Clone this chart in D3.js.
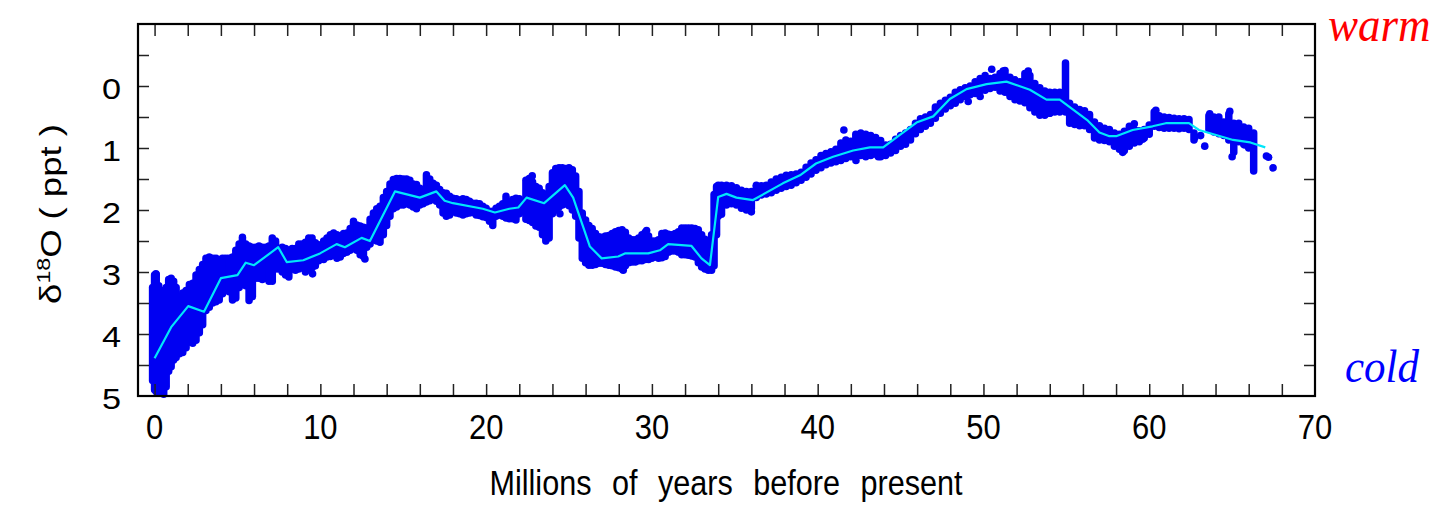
<!DOCTYPE html>
<html>
<head>
<meta charset="utf-8">
<script src="https://cdn.jsdelivr.net/npm/d3@7"></script>
<style>
  html, body { margin: 0; padding: 0; background: #fff; }
  svg { display: block; }
</style>
</head>
<body>
<svg id="chart" width="1439" height="509"></svg>
<script>
// Benthic foraminifera oxygen-isotope record, Cenozoic (age in Myr before present)

// Dense sample cloud: for each age, the lightest (top) and heaviest (bottom) values
const bandAge = [
  -0.12, 0.0, 0.1, 0.25, 0.4, 0.55, 0.7, 0.85, 1.0, 1.15, 1.3, 1.5, 1.7, 1.9, 2.1, 2.3, 2.5, 2.7, 2.9,
  3.1, 3.3, 3.5, 3.7, 3.9, 4.1, 4.3, 4.5, 4.7, 4.9, 5.1, 5.3, 5.5, 5.7, 5.9, 6.1, 6.3, 6.5, 6.7, 6.9,
  7.1, 7.3, 7.5, 7.7, 7.9, 8.1, 8.3, 8.5, 8.7, 8.9, 9.1, 9.3, 9.5, 9.7,
  9.9, 10.2, 10.4, 10.6, 10.8, 11.0, 11.2, 11.4, 11.6, 11.8, 12.0, 12.2, 12.4, 12.6, 12.8, 13.0,
  13.2, 13.4, 13.6, 13.8, 14.0, 14.2, 14.4, 14.6, 14.8, 15.0, 15.2, 15.4, 15.6, 15.8, 16.0, 16.2,
  16.4, 16.6, 16.8, 17.0, 17.2, 17.4, 17.6, 17.8, 18.0, 18.2, 18.4, 18.6, 18.8, 19.0, 19.2, 19.4,
  19.6, 19.8, 20.0, 20.2, 20.4, 20.6, 20.8, 21.0, 21.2,
  21.4, 21.6, 21.8, 22.0, 22.2, 22.4, 22.6, 22.8, 23.0, 23.2, 23.4, 23.6, 23.8, 24.0, 24.2, 24.4,
  24.6, 24.8, 25.0, 25.2, 25.4, 25.6, 25.8, 26.0, 26.2, 26.4, 26.6, 26.8, 27.0, 27.2, 27.4, 27.6,
  27.8, 28.0, 28.2, 28.4, 28.6, 28.8, 29.0, 29.2, 29.4, 29.6, 29.8, 30.0, 30.2, 30.4, 30.6, 30.8,
  31.0, 31.2, 31.4, 31.6, 31.8, 32.0, 32.2, 32.4, 32.6, 32.8, 33.0, 33.2, 33.4, 33.6, 33.75, 33.9, 34.0,
  34.2, 34.5, 34.8, 35.1, 35.4, 35.7, 36.0, 36.3, 36.6, 36.9, 37.2, 37.5, 37.8, 38.1, 38.4, 38.7,
  39.0, 39.3, 39.6, 39.9, 40.2, 40.5, 40.8, 41.1, 41.4, 41.7, 42.0, 42.3, 42.6, 42.9, 43.2, 43.5,
  43.8, 44.1, 44.4, 44.7, 45.0, 45.3, 45.6, 45.9, 46.2, 46.5, 46.8, 47.1, 47.4, 47.7, 48.0, 48.3,
  48.6, 48.9, 49.2, 49.5, 49.8, 50.1, 50.4, 50.7, 51.0, 51.3, 51.6, 51.9, 52.2, 52.5, 52.8, 53.1,
  53.4, 53.7, 54.0, 54.3, 54.6, 54.95, 55.2, 55.5, 55.8, 56.1, 56.4,
  56.7, 57.0, 57.3, 57.6, 57.9, 58.2, 58.5, 58.8, 59.1, 59.4, 59.7, 60.0, 60.3, 60.6, 60.9, 61.2,
  61.5, 61.8, 62.1, 62.4, 62.7, 63.6, 63.9, 64.2, 64.5, 64.8, 65.1, 65.4, 65.7, 66.0, 66.3
];
const bandTop = [
  3.25, 3.05, 3.04, 3.22, 3.30, 3.30, 3.25, 3.12, 3.10, 3.15, 3.25, 3.40, 3.34, 3.30, 3.20, 3.18, 3.05, 2.96, 2.88,
  2.78, 2.76, 2.78, 2.78, 2.80, 2.78, 2.78, 2.78, 2.76, 2.65, 2.55, 2.44, 2.55, 2.58, 2.60, 2.60, 2.58, 2.60, 2.60, 2.58,
  2.45, 2.50, 2.62, 2.60, 2.62, 2.65, 2.62, 2.62, 2.55, 2.55, 2.52, 2.45, 2.45, 2.53,
  2.56, 2.50, 2.45, 2.40, 2.37, 2.40, 2.42, 2.38, 2.37, 2.30, 2.18, 2.24, 2.26, 2.28, 2.29, 2.15,
  2.05, 1.98, 1.94, 1.80, 1.70, 1.58, 1.51, 1.49, 1.49, 1.50, 1.50, 1.52, 1.58, 1.59, 1.65, 1.67,
  1.43, 1.50, 1.57, 1.60, 1.67, 1.72, 1.73, 1.78, 1.81, 1.82, 1.84, 1.82, 1.83, 1.86, 1.89, 1.89,
  1.90, 1.94, 1.97, 2.02, 2.02, 1.97, 1.94, 1.90, 1.78,
  1.88, 1.83, 1.81, 1.82, 1.89, 1.52, 1.49, 1.55, 1.62, 1.65, 1.72, 1.75, 1.62, 1.40, 1.33, 1.32,
  1.32, 1.33, 1.32, 1.35, 1.45, 1.70, 2.05, 2.16, 2.25, 2.30, 2.38, 2.43, 2.44, 2.42, 2.41, 2.38,
  2.35, 2.33, 2.32, 2.36, 2.45, 2.48, 2.48, 2.45, 2.40, 2.36, 2.42, 2.50, 2.50, 2.48, 2.38, 2.37,
  2.39, 2.40, 2.38, 2.35, 2.29, 2.29, 2.29, 2.29, 2.30, 2.32, 2.40, 2.47, 2.50, 2.40, 1.75, 1.62, 1.60,
  1.60, 1.60, 1.61, 1.64, 1.68, 1.70, 1.70, 1.63, 1.61, 1.60, 1.55, 1.50, 1.47, 1.44, 1.43, 1.42,
  1.39, 1.31, 1.24, 1.19, 1.12, 1.09, 1.06, 1.02, 0.92, 0.87, 0.89, 0.78, 0.76, 0.78, 0.80, 0.83,
  0.88, 0.95, 0.94, 0.86, 0.80, 0.76, 0.70, 0.60, 0.53, 0.50, 0.46, 0.34, 0.28, 0.23, 0.18, 0.10,
  0.06, 0.03, 0.00, -0.07, -0.12, -0.17, -0.12, -0.14, -0.20, -0.20, -0.14, -0.10, -0.07, -0.20, -0.17, -0.04,
  0.03, 0.08, 0.10, 0.10, 0.10, -0.37, 0.28, 0.34, 0.38, 0.40, 0.46,
  0.58, 0.64, 0.68, 0.70, 0.76, 0.78, 0.73, 0.65, 0.70, 0.72, 0.70, 0.63, 0.42, 0.48, 0.50, 0.51,
  0.52, 0.53, 0.53, 0.54, 0.76, 0.48, 0.50, 0.50, 0.58, 0.45, 0.60, 0.60, 0.66, 0.68, 0.76
];
const bandBottom = [
  4.75, 4.90, 4.93, 4.93, 4.95, 4.97, 4.85, 4.60, 4.53, 4.42, 4.38, 4.32, 4.30, 4.22, 4.13, 4.15, 4.10, 3.98, 3.85,
  3.62, 3.57, 3.50, 3.48, 3.45, 3.35, 3.30, 3.32, 3.45, 3.42, 3.25, 3.20, 3.22, 3.46, 3.40, 3.10, 3.10, 3.12, 3.10, 3.15,
  3.15, 2.95, 2.95, 3.00, 3.05, 3.08, 2.95, 2.97, 2.95, 2.93, 3.00, 2.95, 2.93, 2.90,
  2.82, 2.80, 2.76, 2.75, 2.73, 2.78, 2.76, 2.70, 2.68, 2.65, 2.62, 2.65, 2.72, 2.75, 2.60, 2.55,
  2.48, 2.50, 2.52, 2.40, 2.25, 2.10, 1.98, 1.95, 1.92, 1.92, 1.90, 1.92, 1.95, 1.98, 1.92, 1.90,
  1.87, 1.85, 1.80, 1.86, 1.92, 2.05, 2.10, 2.08, 2.03, 2.05, 2.06, 2.08, 2.06, 2.05, 2.04, 2.08,
  2.09, 2.11, 2.12, 2.18, 2.25, 2.10, 2.08, 2.10, 2.13,
  2.14, 2.14, 2.16, 2.06, 2.02, 2.15, 2.17, 2.20, 2.26, 2.28, 2.40, 2.50, 2.45, 2.06, 2.00, 1.95,
  1.92, 1.90, 1.93, 2.00, 2.10, 2.45, 2.78, 2.85, 2.89, 2.89, 2.88, 2.86, 2.86, 2.88, 2.89, 2.90,
  2.92, 2.93, 2.95, 2.90, 2.85, 2.84, 2.84, 2.82, 2.82, 2.80, 2.80, 2.78, 2.76, 2.78, 2.77, 2.75,
  2.68, 2.66, 2.66, 2.68, 2.72, 2.72, 2.73, 2.74, 2.76, 2.85, 2.92, 2.95, 2.97, 2.97, 2.90, 2.40, 2.10,
  2.07, 1.92, 1.90, 1.92, 1.97, 2.00, 1.97, 1.80, 1.76, 1.74, 1.72, 1.68, 1.65, 1.62, 1.60, 1.56,
  1.52, 1.47, 1.42, 1.36, 1.32, 1.27, 1.24, 1.22, 1.20, 1.17, 1.14, 1.12, 1.12, 1.14, 1.12, 1.10,
  1.14, 1.12, 1.08, 1.04, 0.97, 0.94, 0.87, 0.77, 0.70, 0.65, 0.60, 0.52, 0.44, 0.37, 0.32, 0.28,
  0.22, 0.17, 0.14, 0.12, 0.08, 0.07, 0.04, 0.02, 0.08, 0.10, 0.17, 0.22, 0.24, 0.27, 0.35, 0.42,
  0.47, 0.47, 0.44, 0.42, 0.42, 0.42, 0.60, 0.62, 0.64, 0.64, 0.70,
  0.84, 0.87, 0.88, 0.90, 0.97, 1.02, 1.04, 0.97, 0.92, 0.90, 0.84, 0.78, 0.65, 0.67, 0.68, 0.68,
  0.68, 0.69, 0.68, 0.70, 0.87, 0.70, 0.74, 0.77, 0.80, 0.87, 1.07, 0.90, 0.94, 1.00, 1.37
];

// Isolated samples lying outside the dense cloud
const dotAge = [
  0.08, 9.53, 12.69, 22.78, 24.45, 28.27, 29.68, 35.2, 36.0, 36.3,
  41.58, 42.31, 43.66, 49.08, 49.8, 50.5, 51.19, 51.3, 51.59, 52.7, 52.9, 53.0, 54.0,
  55.4, 56.2, 57.0, 58.4, 59.1, 59.6, 60.4, 62.75, 63.1, 63.35, 63.65, 64.86, 65.0,
  65.76, 67.07, 67.2, 67.47
];
const dotValue = [
  3.03, 3.03, 2.79, 1.45, 2.06, 2.97, 2.33, 1.89, 2.03, 1.60,
  0.71, 1.20, 1.14, 0.25, 0.17, -0.27, -0.24, -0.25, 0.12, -0.24, 0.28, 0.28, 0.44,
  0.55, 0.63, 0.86, 1.07, 0.61, 0.86, 0.39, 0.83, 0.80, 0.97, 0.45, 0.41, 1.14,
  0.95, 1.13, 1.15, 1.32
];

// Smoothed trend
const trendAge = [
  0, 1.0, 2.03, 2.98, 4.0, 5.0, 5.5, 6.0, 7.46, 7.97, 8.97, 9.98, 10.98, 11.48, 12.49, 12.99,
  14.5, 16.0, 17.0, 17.5, 18.0, 19.8, 20.53, 21.4, 21.94, 22.44, 23.5, 24.75, 25.25, 26.26,
  26.97, 27.97, 28.37, 29.78, 30.48, 30.98, 32.39, 32.99, 33.5, 34.0, 34.5, 35.1, 36.1, 37.9,
  38.93, 39.9, 40.93, 42.14, 43.15, 43.95, 44.96, 45.96, 46.97, 47.97, 48.98, 50.19, 51.39,
  52.8, 53.8, 54.6, 56.3, 57.0, 57.6, 58.0, 59.0, 60.2, 61.0, 62.4, 63.0, 65.06, 66.1, 67.0
];
const trendValue = [
  4.39, 3.89, 3.55, 3.64, 3.10, 3.05, 2.85, 2.89, 2.60, 2.84, 2.81, 2.70, 2.55, 2.60, 2.45, 2.50,
  1.70, 1.80, 1.70, 1.85, 1.89, 1.98, 2.04, 1.98, 1.96, 1.80, 1.89, 1.60, 1.80, 2.59,
  2.78, 2.75, 2.70, 2.70, 2.65, 2.55, 2.58, 2.78, 2.89, 1.79, 1.74, 1.80, 1.84, 1.57,
  1.44, 1.25, 1.14, 1.04, 0.99, 0.99, 0.79, 0.59, 0.49, 0.21, 0.05, -0.03, -0.07,
  0.06, 0.22, 0.22, 0.56, 0.75, 0.81, 0.81, 0.71, 0.65, 0.60, 0.60, 0.71, 0.87, 0.91, 0.99
];

const xLabels = [0, 10, 20, 30, 40, 50, 60, 70];
const yLabels = [0, 1, 2, 3, 4, 5];
const xMinorTicks = d3.range(0, 70, 2);
const yMinorTicks = d3.range(-0.5, 5, 0.5);

const svg = d3.select("#chart");
const plot = { left: 138, right: 1315, top: 24, bottom: 396 };

const x = d3.scaleLinear().domain([-1, 70]).range([plot.left, plot.right]);
const y = d3.scaleLinear().domain([-1, 5]).range([plot.top, plot.bottom]);

const dotColor = "#0000f2";

// sample cloud
const band = svg.append("g");
band.selectAll("line")
  .data(bandAge.map((a, i) => ({ a, t: bandTop[i], b: bandBottom[i] })))
  .join("line")
  .attr("x1", d => x(d.a)).attr("x2", d => x(d.a))
  .attr("y1", d => y(d.t)).attr("y2", d => y(d.b))
  .attr("stroke", dotColor)
  .attr("stroke-width", 7.5)
  .attr("stroke-linecap", "round");

band.selectAll("circle")
  .data(dotAge.map((a, i) => ({ a, v: dotValue[i] })))
  .join("circle")
  .attr("cx", d => x(d.a)).attr("cy", d => y(d.v))
  .attr("r", 3.8)
  .attr("fill", dotColor);

// trend line
svg.append("path")
  .datum(trendAge.map((a, i) => [a, trendValue[i]]))
  .attr("fill", "none")
  .attr("stroke", "#00e6fa")
  .attr("stroke-width", 2.2)
  .attr("stroke-linejoin", "round")
  .attr("d", d3.line().x(d => x(d[0])).y(d => y(d[1])));

// inward ticks on all four sides
function tickStyle(g) {
  g.select(".domain").remove();
  g.selectAll(".tick line").attr("stroke", "#222").attr("stroke-width", 1.5);
}
svg.append("g").attr("transform", `translate(0,${plot.bottom})`)
  .call(d3.axisBottom(x).tickValues(xMinorTicks).tickSize(-12).tickFormat(""))
  .call(tickStyle);
svg.append("g").attr("transform", `translate(0,${plot.top})`)
  .call(d3.axisTop(x).tickValues(xMinorTicks).tickSize(-12).tickFormat(""))
  .call(tickStyle);
svg.append("g").attr("transform", `translate(${plot.left},0)`)
  .call(d3.axisLeft(y).tickValues(yMinorTicks).tickSize(-11).tickFormat(""))
  .call(tickStyle);
svg.append("g").attr("transform", `translate(${plot.right},0)`)
  .call(d3.axisRight(y).tickValues(yMinorTicks).tickSize(-11).tickFormat(""))
  .call(tickStyle);

// frame
svg.append("rect")
  .attr("x", plot.left).attr("y", plot.top)
  .attr("width", plot.right - plot.left).attr("height", plot.bottom - plot.top)
  .attr("fill", "none").attr("stroke", "#000").attr("stroke-width", 2.2);

const sans = "'Liberation Sans', Arial, Helvetica, sans-serif";
const serif = "'Liberation Serif', 'Times New Roman', serif";

// x tick labels
svg.append("g").selectAll("text")
  .data(xLabels)
  .join("text")
  .attr("transform", d => `translate(${x(d)},439) scale(1,1.15)`)
  .attr("text-anchor", "middle")
  .attr("font-family", sans).attr("font-size", 31)
  .attr("fill", "#000")
  .text(d => d);

// y tick labels
svg.append("g").selectAll("text")
  .data(yLabels)
  .join("text")
  .attr("transform", d => `translate(121,${y(d) + 13}) scale(1.18,1)`)
  .attr("text-anchor", "end")
  .attr("font-family", sans).attr("font-size", 29)
  .attr("fill", "#000")
  .text(d => d);

// x axis title
svg.append("text")
  .attr("transform", "translate(726,495) scale(1,1.14)")
  .attr("text-anchor", "middle")
  .attr("font-family", sans).attr("font-size", 30.6)
  .attr("word-spacing", "12px")
  .attr("fill", "#000")
  .text("Millions of years before present");

// y axis title
const yt = svg.append("text")
  .attr("transform", "translate(61,214) rotate(-90) scale(1.22,1)")
  .attr("text-anchor", "middle")
  .attr("font-family", sans).attr("font-size", 30)
  .attr("fill", "#000")
  .attr("xml:space", "preserve");
yt.append("tspan").text("δ");
yt.append("tspan").attr("font-size", 19).attr("dy", -11).text("18");
yt.append("tspan").attr("dy", 11).text("O");
yt.append("tspan").attr("dx", 8).text("( ppt )");

// warm / cold markers
svg.append("text")
  .attr("transform", "translate(1328,41) scale(1,1.06)")
  .attr("font-family", serif).attr("font-style", "italic").attr("font-size", 45)
  .attr("fill", "#ff0000")
  .text("warm");
svg.append("text")
  .attr("transform", "translate(1345,382) scale(1,1.08)")
  .attr("font-family", serif).attr("font-style", "italic").attr("font-size", 43)
  .attr("fill", "#0000ff")
  .text("cold");
</script>
</body>
</html>
